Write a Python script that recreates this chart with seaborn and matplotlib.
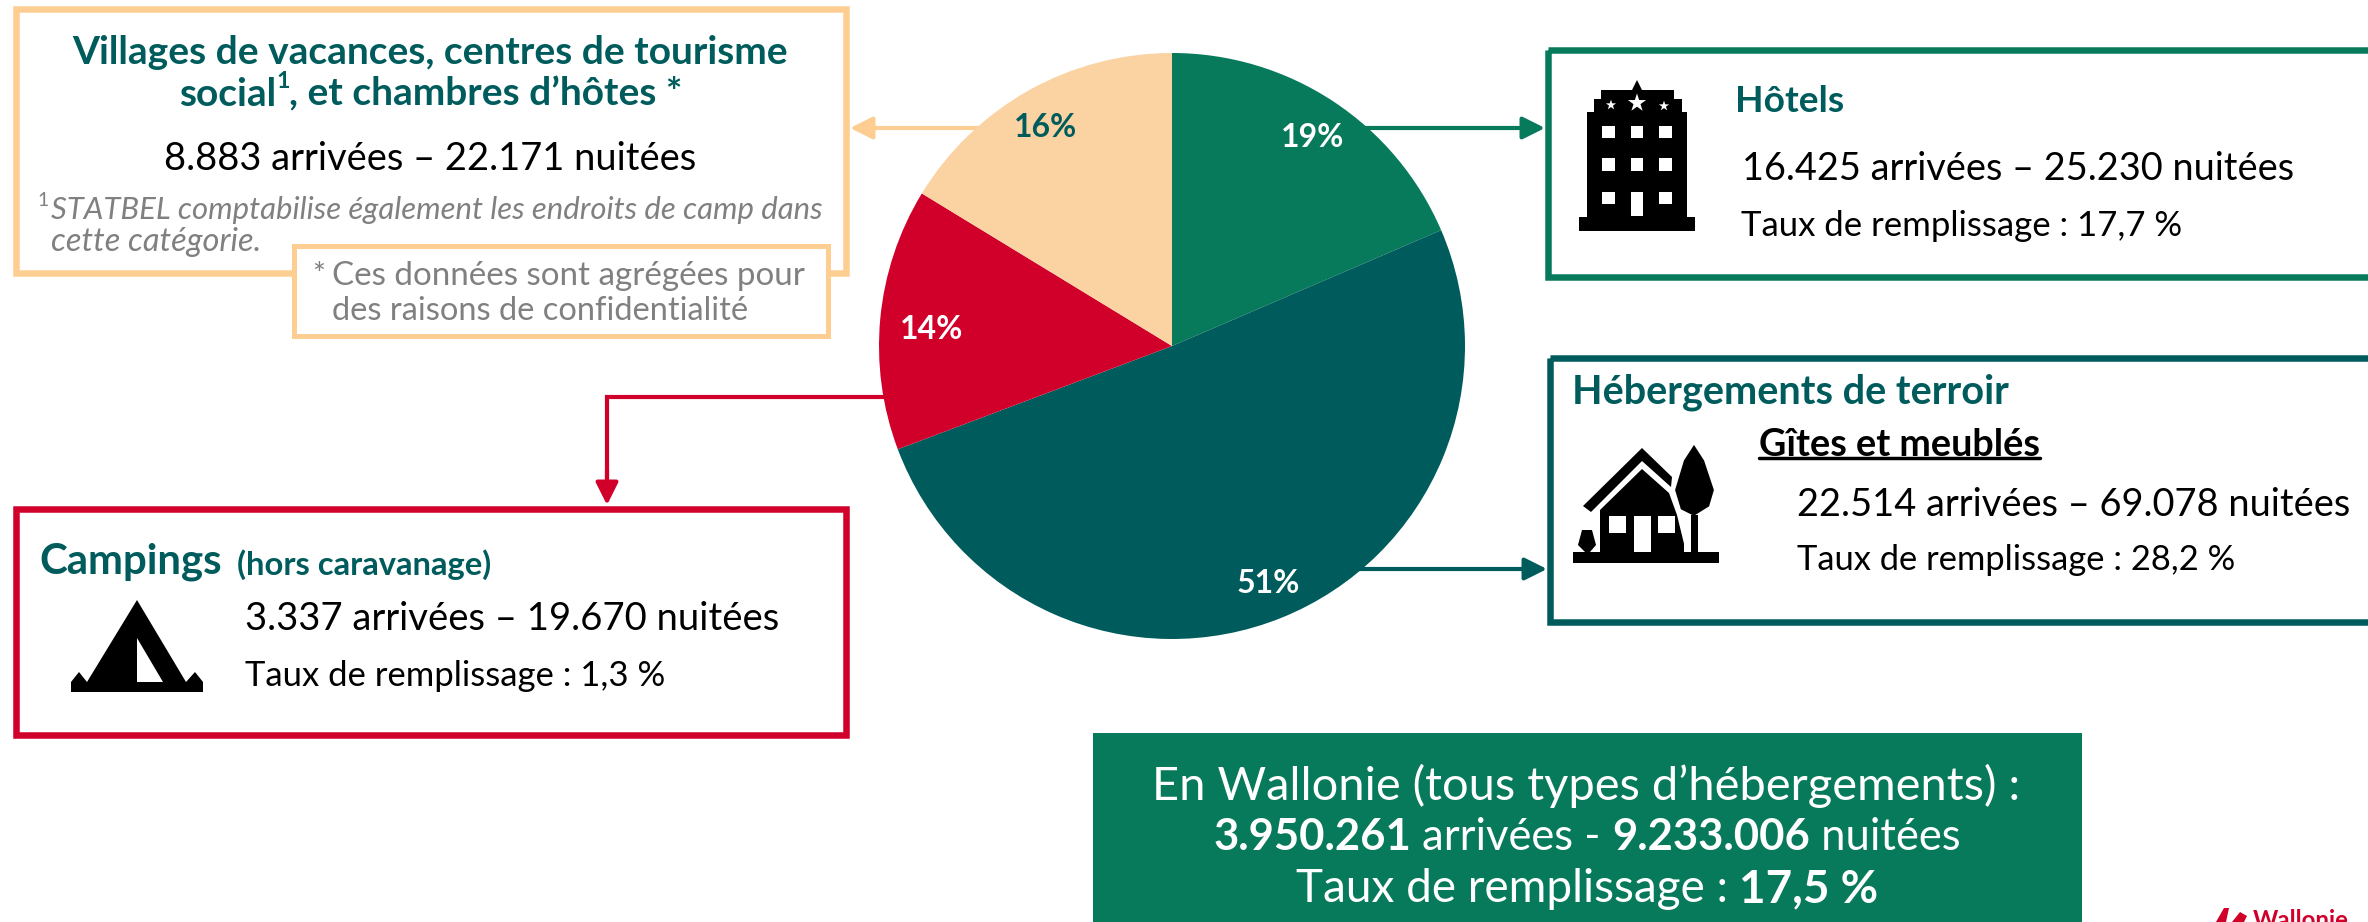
import matplotlib
matplotlib.use("Agg")
import matplotlib.pyplot as plt
import seaborn as sns
from matplotlib.patches import Polygon, Rectangle

sns.set_theme(style="white")
plt.rcParams['font.family'] = ['Lato', 'DejaVu Sans']

# data, order: hotels, terroir, campings, villages
categories = ['Hôtels', 'Hébergements de terroir', 'Campings', 'Villages de vacances']
arrivals = [16425, 22514, 3337, 8883]
nights = [25230, 69078, 19670, 22171]
occupancy = ['17,7', '28,2', '1,3']
total_arrivals = 3950261
total_nights = 9233006
total_occupancy = '17,5'

GREEN = '#087A5C'
TEAL = '#005C5C'
RED = '#D0002B'
BEIGE = '#FBD2A1'
BEIGE_LINE = '#FDCD92'
GREY = '#808080'
palette = sns.color_palette([GREEN, TEAL, RED, BEIGE])

W, H = 2368, 922
fig = plt.figure(figsize=(W / 100, H / 100), dpi=100, facecolor='white')
ax = fig.add_axes([0, 0, 1, 1], zorder=0)
ax.set_xlim(0, W)
ax.set_ylim(H, 0)
ax.axis('off')
renderer = fig.canvas.get_renderer()


def num(n):
    return f'{n:,}'.replace(',', '.')


def stay(i):
    return f'{num(arrivals[i])} arrivées – {num(nights[i])} nuitées'


def put(x, y, runs, width=None, color='black', ha='left', weight='normal', style='normal', size=None):
    # runs of text share one line, the size is fitted to the width in pixels
    if isinstance(runs, str):
        runs = [(runs, weight)]
    parts = [ax.text(0, 0, t, fontsize=20, fontweight=w, fontstyle=style, color=color,
                     va='center_baseline', zorder=3) for t, w in runs]
    total = sum(p.get_window_extent(renderer).width for p in parts)
    if size is None:
        size = 20 * width / total
    left = x - (total * size / 20) / 2 if ha == 'center' else x
    for p in parts:
        p.set_fontsize(size)
        p.set_position((left, y))
        left += p.get_window_extent(renderer).width
    return size, left


def box(x0, y0, x1, y1, color, lw=6.5, fill='none', z=1):
    ax.add_patch(Rectangle((x0, y0), x1 - x0, y1 - y0, edgecolor=color, facecolor=fill,
                           lw=lw * 0.72, zorder=z, joinstyle='miter'))


def arrow(start, end, color):
    ax.annotate('', xy=end, xytext=start, zorder=0.5,
                arrowprops=dict(arrowstyle='-|>,head_length=0.9,head_width=0.45', color=color,
                                lw=3, mutation_scale=15, shrinkA=0, shrinkB=0))


# pie, clockwise from the top, the slices follow the nights
pie_ax = fig.add_axes([(1172 - 293) / W, 1 - (346 + 293) / H, 586 / W, 586 / H], zorder=2)
wedges, _, autotexts = pie_ax.pie(nights, colors=palette, startangle=90, counterclock=False,
                                  radius=1, autopct=lambda p: f'{p:.0f}%', pctdistance=0.86,
                                  wedgeprops=dict(linewidth=0),
                                  textprops=dict(fontsize=23, fontweight='bold', color='white'))
pie_ax.set_xlim(-1, 1)
pie_ax.set_ylim(-1, 1)
autotexts[3].set_color(TEAL)
autotexts[3].set_position((-0.43, 0.745))
autotexts[2].set_position((-0.82, 0.055))
autotexts[1].set_position((0.33, -0.81))
autotexts[0].set_position((0.48, 0.71))

# connectors
arrow((1000, 128), (850, 128), BEIGE_LINE)
arrow((1350, 128), (1545, 128), GREEN)
arrow((1340, 569), (1547, 569), TEAL)
ax.plot([900, 607, 607], [397, 397, 480], color=RED, lw=3, solid_joinstyle='miter', zorder=0.5)
arrow((607, 470), (607, 505), RED)

# boxes
box(15.5, 9.5, 846, 273.5, BEIGE_LINE)
box(293.5, 246, 828, 335.5, BEIGE_LINE, lw=5, fill='white', z=2)
box(15.5, 508.5, 846, 735, RED)
box(1548, 50.5, 2400, 277, GREEN)
box(1550, 357.5, 2400, 622, TEAL)
ax.add_patch(Rectangle((1093, 733), 989, 200, facecolor=GREEN, edgecolor='none', zorder=1))

# villages
title_size, _ = put(430, 50, 'Villages de vacances, centres de tourisme', 715, TEAL, 'center', 'bold')
_, end = put(179, 91, 'social', color=TEAL, weight='bold', size=title_size)
ax.text(end, 80, '1', fontsize=title_size * 0.6, color=TEAL, fontweight='bold',
        va='center_baseline', zorder=3)
put(end + 13, 91, ', et chambres d’hôtes *', color=TEAL, weight='bold', size=title_size)
put(430, 155, stay(3), 533, ha='center')
ax.text(37, 199, '1', fontsize=14, color=GREY, va='center_baseline', zorder=3)
put(51, 207, 'STATBEL comptabilise également les endroits de camp dans', 772, GREY, style='italic')
put(51, 239, 'cette catégorie.', 210, GREY, style='italic')
put(332, 273, 'Ces données sont agrégées pour', 473, GREY)
put(332, 308, 'des raisons de confidentialité', 418, GREY)
ax.text(312, 272, '*', fontsize=22, color=GREY, va='center_baseline', zorder=3)

# campings
put(39, 558, categories[2], 183, TEAL, weight='bold')
put(237, 562, '(hors caravanage)', 254, TEAL, weight='bold')
put(245, 615, stay(2), 536)
put(245, 673, f'Taux de remplissage : {occupancy[2]} %', 421)

# hotels
put(1735, 98, categories[0], 109, TEAL, weight='bold')
put(1742, 166, stay(0), 553)
put(1741, 223, f'Taux de remplissage : {occupancy[0]} %', 442)

# terroir
put(1572, 388, categories[1], 438, TEAL, weight='bold')
put(1759, 442, 'Gîtes et meublés', 281, weight='bold')
ax.plot([1759, 2040], [458, 458], color='black', lw=2.5)
put(1797, 501, stay(1), 554)
put(1797, 557, f'Taux de remplissage : {occupancy[1]} %', 438)

# total box
put(1587, 782, 'En Wallonie (tous types d’hébergements) :', 871, 'white', 'center')
put(1588, 833, [(num(total_arrivals), 'bold'), (' arrivées - ', 'normal'), (num(total_nights), 'bold'),
                (' nuitées', 'normal')], 749, 'white', 'center')
put(1588, 885, [('Taux de remplissage : ', 'normal'), (total_occupancy + ' %', 'bold')], 585, 'white', 'center')


# icons
def shape(pts, color='black', z=2):
    ax.add_patch(Polygon(pts, closed=True, facecolor=color, edgecolor='none', zorder=z))


def rect(x0, y0, x1, y1, color='black', z=2):
    ax.add_patch(Rectangle((x0, y0), x1 - x0, y1 - y0, facecolor=color, edgecolor='none', zorder=z))


# hotel
rect(1579, 217, 1695, 231)
rect(1587, 112, 1687, 217)
rect(1594, 99, 1682, 112)
rect(1601, 90, 1674, 99)
shape([(1632, 90), (1637, 80), (1642, 90)])
for x0, x1 in [(1602, 1615), (1631, 1643), (1659, 1672)]:
    for y0, y1 in [(126, 138), (158, 171), (192, 204)]:
        if x0 == 1631 and y0 == 192:
            y1 = 216
        rect(x0, y0, x1, y1, 'white', 3)
ax.scatter([1637, 1611, 1664], [103, 105, 106], s=[190, 60, 60], marker='*', color='white',
           linewidths=0, zorder=3)

# tent
rect(71, 682, 203, 692)
shape([(137, 600), (186, 682), (87, 682)])
shape([(71, 682), (79, 672), (87, 682)])
shape([(186, 682), (195, 672), (203, 682)])
shape([(137, 638), (163, 682), (137, 682)], 'white', 3)

# house
rect(1573, 552, 1719, 563)
shape([(1583, 506), (1642, 448), (1672, 477), (1671, 487), (1642, 461), (1591, 512)])
shape([(1600, 510), (1642, 469), (1669, 493), (1677, 515), (1686, 552), (1600, 552)])
for x0, x1, y0, y1 in [(1609, 1626, 516, 533), (1658, 1675, 516, 533), (1634, 1651, 516, 552)]:
    rect(x0, y0, x1, y1, 'white', 3)
tree = [(1694, 443), (1705, 460), (1715, 490), (1710, 507), (1694, 517), (1680, 510), (1674, 490), (1683, 460)]
ax.add_patch(Polygon(tree, closed=True, facecolor='black', edgecolor='white', lw=1.5, zorder=3))
rect(1691, 515, 1698, 552, z=3)
rect(1684, 517, 1691, 552, 'white', 3)
shape([(1582, 530), (1592, 530), (1596, 545), (1590, 552), (1585, 552), (1578, 545)])

# Wallonie logo, cut by the lower edge
put(2253, 918, 'Wallonie', 96, RED, weight='bold')
shape([(2216, 922), (2224, 908), (2229, 908), (2226, 922)], RED)
shape([(2232, 922), (2240, 912), (2247, 916), (2244, 922)], RED)

fig.savefig('out.png', dpi=100, facecolor='white')
